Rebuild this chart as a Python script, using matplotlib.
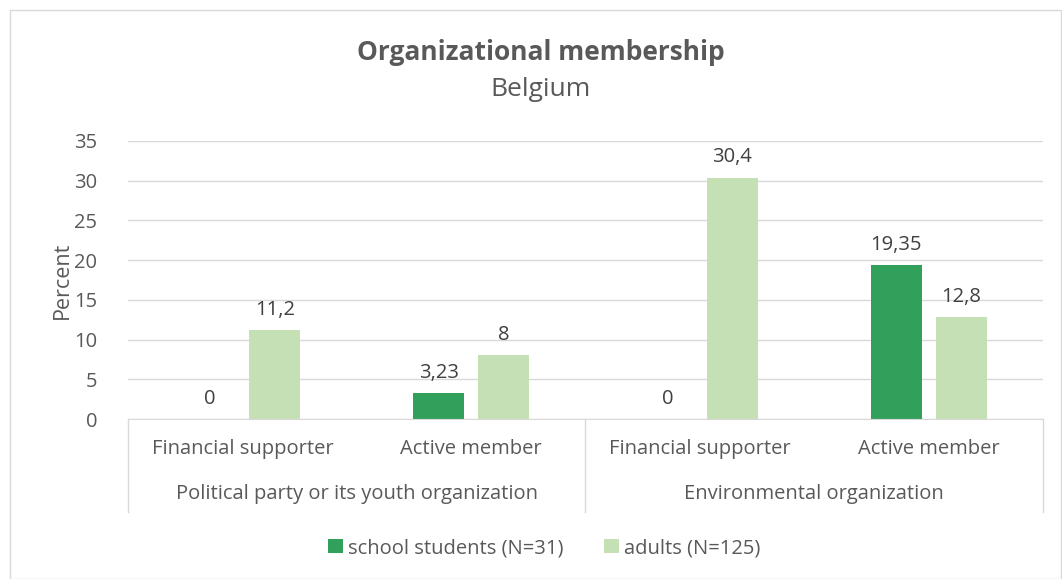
import matplotlib
matplotlib.use("Agg")
import matplotlib.pyplot as plt
from matplotlib.patches import Rectangle
from matplotlib.lines import Line2D
import numpy as np

plt.rcParams['font.family'] = ['Open Sans', 'DejaVu Sans']

groups = ["Political party or its youth organization", "Environmental organization"]
subcats = ["Financial supporter", "Active member", "Financial supporter", "Active member"]
series_names = ["school students (N=31)", "adults (N=125)"]
students = [0, 3.23, 0, 19.35]
adults = [11.2, 8, 30.4, 12.8]
student_labels = ["0", "3,23", "0", "19,35"]
adult_labels = ["11,2", "8", "30,4", "12,8"]
yticks = [0, 5, 10, 15, 20, 25, 30, 35]

dark = "#31A05B"
light = "#C5E0B4"
txt = "#595959"
lbl = "#404040"
fs = 14.5

fig = plt.figure(figsize=(10.62, 5.79), dpi=100)
fig.patches.append(Rectangle((0.0095, 0.0), 0.99, 0.983, transform=fig.transFigure,
                             fill=False, edgecolor="#D9D9D9", linewidth=1))
ax = fig.add_axes([0.1205, 0.2763, 0.8616, 0.4802])

x = np.arange(len(subcats))
w = 0.223
off = 0.142
b1 = ax.bar(x - off, students, w, color=dark, label=series_names[0])
b2 = ax.bar(x + off, adults, w, color=light, label=series_names[1])
for rect, s in zip(b1, student_labels):
    ax.text(rect.get_x() + rect.get_width() / 2, rect.get_height() + 1.3, s,
            ha="center", va="bottom", fontsize=fs, color=lbl)
for rect, s in zip(b2, adult_labels):
    ax.text(rect.get_x() + rect.get_width() / 2, rect.get_height() + 1.3, s,
            ha="center", va="bottom", fontsize=fs, color=lbl)

ax.set_xlim(-0.5, 3.5)
ax.set_ylim(0, 35)
ax.set_yticks(yticks)
ax.set_yticklabels([str(v) for v in yticks], fontsize=fs, color=txt)
ax.yaxis.grid(True, color="#D9D9D9", linewidth=1)
ax.set_axisbelow(True)
for sp in ["top", "right", "left"]:
    ax.spines[sp].set_visible(False)
ax.spines["bottom"].set_color("#D9D9D9")
ax.tick_params(axis="y", length=0, pad=22)
ax.tick_params(axis="x", length=0)
ax.set_xticks([])
ax.set_ylabel("Percent", fontsize=fs + 1, color=txt, labelpad=1)

# multi-level category axis
for i, s in enumerate(subcats):
    ax.text(i, -3.8, s, ha="center", va="center", fontsize=fs, color=txt,
            clip_on=False)
for gi, g in enumerate(groups):
    ax.text(gi * 2 + 0.5, -9.5, g, ha="center", va="center", fontsize=fs, color=txt,
            clip_on=False)
for xv in [-0.5, 1.5, 3.5]:
    ax.add_line(Line2D([xv, xv], [0, -11.7], color="#D9D9D9", linewidth=1, clip_on=False))

ax.legend(loc="center", bbox_to_anchor=(0.455, -0.464), ncol=2, frameon=False,
          fontsize=fs, labelcolor=txt, handlelength=0.75, handleheight=0.75,
          handletextpad=0.25, columnspacing=2.0)

fig.text(0.509, 0.91, "Organizational membership", ha="center", va="center",
         fontsize=19, fontweight="bold", color=txt)
fig.text(0.509, 0.845, "Belgium", ha="center", va="center", fontsize=19, color=txt)

fig.savefig("out.png", dpi=100)
